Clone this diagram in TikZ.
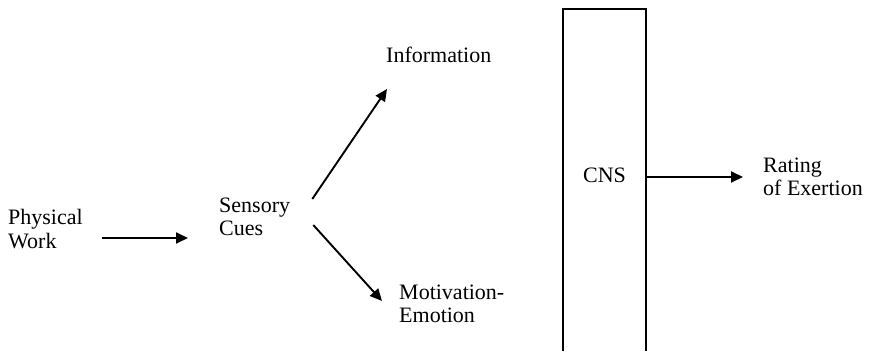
\documentclass[tikz,border=0pt]{standalone}
\usepackage{fontspec}
\setmainfont{Liberation Serif}
\usetikzlibrary{arrows.meta,calc}
\begin{document}
\begin{tikzpicture}[x=1pt,y=1pt,
  lbl/.style={anchor=west,inner sep=0pt,align=left,font=\fontsize{22}{23.5}\selectfont},
  arr/.style={line width=1.9pt,-{Triangle[length=12pt,width=11pt]}},
  cnsbox/.style={draw=none,minimum width=83pt,minimum height=342pt,inner sep=0pt}]
\useasboundingbox (0,0) rectangle (878,351);

% labels
\node[lbl] (phys)   at (8,122)   {Physical\\Work};
\node[lbl] (sens)   at (219,134) {Sensory\\Cues};
\node[lbl] (info)   at (386,296) {Information};
\node[lbl] (motiv)  at (399,47)  {Motivation-\\Emotion};
\node[lbl] (rating) at (763,174) {Rating\\of Exertion};

% central nervous system column, open at the bottom
\node[cnsbox,label={[yshift=5pt,font=\fontsize{22}{23.5}\selectfont]center:CNS}] (cns) at (604.5,171) {};
\draw[line width=1.5pt] (cns.south west) |- (cns.north east) -- (cns.south east);

% connectors
\draw[arr] ($(phys.east)+(19,-9)$) -- ($(sens.west)+(-31,-21)$);
\draw[arr] ($(sens.east)+(22,18)$) -- ($(info.west)+(1,-34)$);
\draw[arr] ($(sens.east)+(23,-8)$) -- ($(motiv.west)+(-17,3)$);
\draw[arr] (cns.east |- rating.west) -- ($(rating.west)+(-20,0)$);
\end{tikzpicture}
\end{document}
